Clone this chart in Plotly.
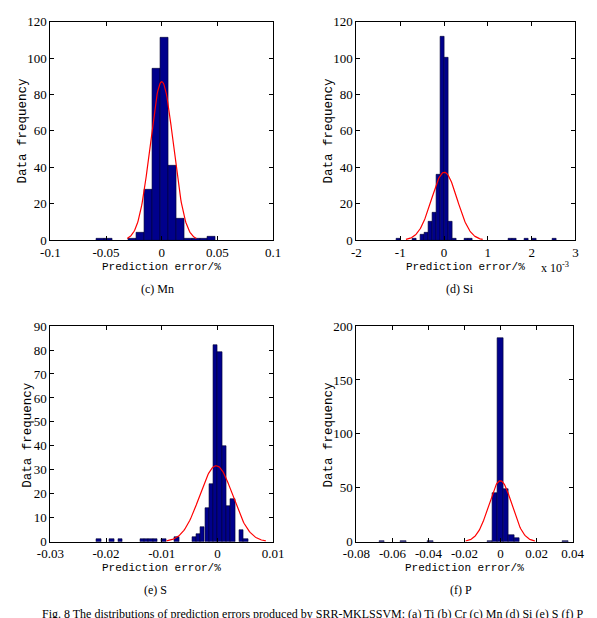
import numpy as np
import plotly.graph_objects as go

W, H = 597, 618

# ---------------- data ----------------
# (c) Mn
mn_centers = [-0.0552, -0.0481, -0.0266, -0.0195, -0.0123, -0.0052, 0.0020,
              0.0092, 0.0163, 0.0235, 0.0306, 0.0378, 0.0449]
mn_counts = [1, 1, 1, 4, 28, 94, 111, 41, 12, 1, 1, 1, 2]
mn_width = 0.00715
mn_mu, mn_sigma, mn_peak = 0.0, 0.01035, 87

# (d) Si  (x in units of 1e-3)
si_centers = [-1.037, -0.672, -0.490, -0.398, -0.307, -0.216, -0.124, -0.033,
              0.058, 0.150, 0.241, 0.515, 0.606, 1.519, 1.610, 1.884, 2.067, 2.523]
si_counts = [1, 1, 3, 4, 10, 15, 36, 112, 100, 10, 1, 1, 1, 1, 1, 1, 1, 1]
si_width = 0.0913
si_mu, si_sigma, si_peak = 0.007, 0.292, 37.3

# (e) S
s_centers = [-0.02128, -0.01895, -0.01740, -0.01352, -0.01275, -0.01197, -0.01119,
             -0.00964, -0.00731, -0.00421, -0.00343, -0.00266, -0.00188, -0.00111,
             -0.00033, 0.00045, 0.00122, 0.00200, 0.00277, 0.00433, 0.00510]
s_counts = [1, 1, 1, 1, 1, 1, 1, 1, 2, 2, 3, 6, 14, 24, 82, 79, 40, 15, 18, 5, 1]
s_width = 0.000776
s_mu, s_sigma, s_peak = -0.00023, 0.00297, 31.7

# (f) P
p_centers = [-0.066, -0.054, -0.039, -0.006, -0.003, 0.0, 0.003, 0.006, 0.009, 0.036]
p_counts = [1, 1, 1, 1, 45, 189, 49, 6, 3, 1]
p_width = 0.003
p_mu, p_sigma, p_peak = -0.0001, 0.00642, 56.5

# axis ticks
mn_xticks = [-0.1, -0.05, 0, 0.05, 0.1]
mn_xlabels = ["-0.1", "-0.05", "0", "0.05", "0.1"]
mn_yticks = [0, 20, 40, 60, 80, 100, 120]
si_xticks = [-2, -1, 0, 1, 2, 3]
si_xlabels = ["-2", "-1", "0", "1", "2", "3"]
si_yticks = [0, 20, 40, 60, 80, 100, 120]
s_xticks = [-0.03, -0.02, -0.01, 0, 0.01]
s_xlabels = ["-0.03", "-0.02", "-0.01", "0", "0.01"]
s_yticks = [0, 10, 20, 30, 40, 50, 60, 70, 80, 90]
p_xticks = [-0.08, -0.06, -0.04, -0.02, 0, 0.02, 0.04]
p_xlabels = ["-0.08", "-0.06", "-0.04", "-0.02", "0", "0.02", "0.04"]
p_yticks = [0, 50, 100, 150, 200]

captions = ["(c) Mn", "(d) Si", "(e) S", "(f) P"]
xtitle = "Prediction error/%"
ytitle = "Data frequency"
fig_caption = ("Fig. 8 The distributions of prediction errors produced by "
               "SRR-MKLSSVM: (a) Ti (b) Cr (c) Mn (d) Si (e) S (f) P")

# ---------------- layout helpers ----------------
def px(x):
    return x / W

def py(y):
    return 1 - y / H

BAR_COLOR = "#00008C"
EDGE = "#000030"
TICKFONT = dict(family="Liberation Serif", size=13, color="black")

panels = [
    dict(c=mn_centers, n=mn_counts, w=mn_width, mu=mn_mu, sg=mn_sigma, pk=mn_peak,
         xr=[-0.1, 0.1], yr=[0, 120], xt=mn_xticks, xl=mn_xlabels, yt=mn_yticks,
         box=(38, 271, 15, 239)),
    dict(c=si_centers, n=si_counts, w=si_width, mu=si_mu, sg=si_sigma, pk=si_peak,
         xr=[-2, 3], yr=[0, 120], xt=si_xticks, xl=si_xlabels, yt=si_yticks,
         box=(358, 587, 15, 239)),
    dict(c=s_centers, n=s_counts, w=s_width, mu=s_mu, sg=s_sigma, pk=s_peak,
         xr=[-0.03, 0.01], yr=[0, 90], xt=s_xticks, xl=s_xlabels, yt=s_yticks,
         box=(38, 271, 327, 548)),
    dict(c=p_centers, n=p_counts, w=p_width, mu=p_mu, sg=p_sigma, pk=p_peak,
         xr=[-0.08, 0.04], yr=[0, 200], xt=p_xticks, xl=p_xlabels, yt=p_yticks,
         box=(358, 584, 327, 548)),
]

fig = go.Figure()
layout = dict(width=W, height=H, margin=dict(l=0, r=0, t=0, b=0),
              paper_bgcolor="white", plot_bgcolor="white", showlegend=False,
              bargap=0)

for i, p in enumerate(panels, start=1):
    xa = "x" if i == 1 else f"x{i}"
    ya = "y" if i == 1 else f"y{i}"
    fig.add_trace(go.Bar(x=p["c"], y=p["n"], width=p["w"], xaxis=xa, yaxis=ya,
                         marker=dict(color=BAR_COLOR, line=dict(color=EDGE, width=0.6))))
    xx = np.linspace(p["mu"] - 3 * p["sg"], p["mu"] + 3 * p["sg"], 121)
    yy = p["pk"] * np.exp(-0.5 * ((xx - p["mu"]) / p["sg"]) ** 2)
    fig.add_trace(go.Scatter(x=xx, y=yy, mode="lines", xaxis=xa, yaxis=ya,
                             line=dict(color="#FF0000", width=1.2)))
    x0, x1, y0, y1 = p["box"]
    axcommon = dict(showgrid=False, zeroline=False, showline=True, linecolor="black",
                    linewidth=1, mirror="allticks", ticks="inside", ticklen=4,
                    tickcolor="black", tickfont=TICKFONT)
    layout["xaxis" if i == 1 else f"xaxis{i}"] = dict(
        domain=[px(x0), px(x1)], range=p["xr"], tickvals=p["xt"], ticktext=p["xl"],
        anchor=ya, **axcommon)
    layout["yaxis" if i == 1 else f"yaxis{i}"] = dict(
        domain=[py(y1), py(y0)], range=p["yr"], tickvals=p["yt"],
        ticktext=[str(v) for v in p["yt"]], anchor=xa, **axcommon)

ann = []
ytitle_pos = [(9, 127), (329, 127), (15, 438), (329.5, 438)]
xtitle_pos = [(154.5, 266), (472.5, 266), (154.5, 575), (471, 575)]
cap_pos = [(150, 289), (466, 289), (148, 598), (467, 598)]
for k in range(4):
    ann.append(dict(text=ytitle, x=px(ytitle_pos[k][0]), y=py(ytitle_pos[k][1]),
                    xref="paper", yref="paper", showarrow=False, textangle=-90,
                    xanchor="center", yanchor="middle",
                    font=dict(family="Liberation Mono", size=12.5, color="black")))
    ann.append(dict(text=xtitle, x=px(xtitle_pos[k][0]), y=py(xtitle_pos[k][1]),
                    xref="paper", yref="paper", showarrow=False,
                    xanchor="center", yanchor="middle",
                    font=dict(family="Liberation Mono", size=11, color="black")))
    ann.append(dict(text=captions[k], x=px(cap_pos[k][0]), y=py(cap_pos[k][1]),
                    xref="paper", yref="paper", showarrow=False,
                    xanchor="center", yanchor="middle",
                    font=dict(family="Liberation Serif", size=12, color="black")))

ann.append(dict(text="x 10<sup>-3</sup>", x=px(566), y=py(267), xref="paper", yref="paper",
                showarrow=False, xanchor="center", yanchor="middle",
                font=dict(family="Liberation Serif", size=12, color="black")))
ann.append(dict(text=fig_caption, x=px(312), y=py(613), xref="paper", yref="paper",
                showarrow=False, xanchor="center", yanchor="top",
                font=dict(family="Liberation Serif", size=12, color="black")))
layout["annotations"] = ann

fig.update_layout(**layout)
fig.write_html("out.html")
